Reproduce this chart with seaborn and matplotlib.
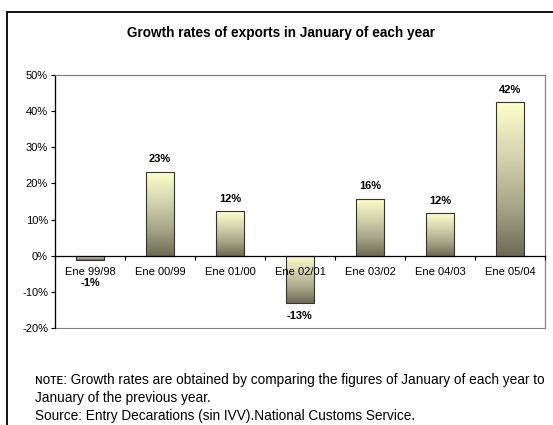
import numpy as np
import pandas as pd
import seaborn as sns
import matplotlib.pyplot as plt
from matplotlib.colors import LinearSegmentedColormap
from matplotlib.patches import Rectangle
from matplotlib.ticker import PercentFormatter, FixedLocator

# Datos
periodos = ['Ene 99/98', 'Ene 00/99', 'Ene 01/00', 'Ene 02/01', 'Ene 03/02', 'Ene 04/03', 'Ene 05/04']
tasas = [-1.3, 23.2, 12.3, -13.1, 15.8, 11.8, 42.4]
etiquetas = ['-1%', '23%', '12%', '-13%', '16%', '12%', '42%']

titulo = 'Growth rates of exports in January of each year'
nota = ['ɴᴏᴛᴇ: Growth rates are obtained by comparing the figures of January of each year to',
        'January of the previous year.',
        'Source: Entry Decarations (sin IVV).National Customs Service.']

df = pd.DataFrame({'periodo': periodos, 'tasa': tasas})

sns.set_style('white')
plt.rcParams['font.family'] = ['Liberation Sans', 'DejaVu Sans']
plt.rcParams['text.color'] = 'black'
plt.rcParams['xtick.color'] = 'black'
plt.rcParams['ytick.color'] = 'black'
plt.rcParams['axes.unicode_minus'] = False

fig = plt.figure(figsize=(5.53, 4.25), dpi=100)
ax = fig.add_axes([55 / 553, 1 - 328 / 425, 490 / 553, 253 / 425])

sns.barplot(x='periodo', y='tasa', data=df, color='#d2d2aa', width=0.41,
            edgecolor='#333333', linewidth=0.8, ax=ax)

# Relleno degradado de cada barra
cmap = LinearSegmentedColormap.from_list('oliva', ['#6b6b55', '#a8a88a', '#d6d6b0', '#ffffcc'])
grad = np.linspace(0, 1, 256).reshape(-1, 1)
for p in ax.patches:
    x0, y0 = p.get_x(), p.get_y()
    w, h = p.get_width(), p.get_height()
    lo, hi = min(y0, y0 + h), max(y0, y0 + h)
    im = ax.imshow(grad, cmap=cmap, aspect='auto', origin='lower',
                   extent=[x0, x0 + w, lo, hi], zorder=1)
    im.set_clip_path(p)
    p.set_facecolor('none')
    p.set_zorder(1.1)
ax.set_ylim(-20, 50)
ax.set_xlim(-0.5, len(periodos) - 0.5)

# Etiquetas de valores
desplaz = [-16, 9, 9, -9, 9, 9, 9]
for i, (v, t) in enumerate(zip(tasas, etiquetas)):
    ax.annotate(t, (i, v), xytext=(0, desplaz[i]), textcoords='offset points',
                ha='center', va='center', fontsize=8, fontweight='bold')

# Ejes
ax.yaxis.set_major_formatter(PercentFormatter(decimals=0))
ax.set_yticks(range(-20, 51, 10))
ax.tick_params(axis='y', direction='out', length=3, width=0.8,
               labelsize=8, pad=2, left=True)
ax.spines['bottom'].set_position(('data', 0))
ax.spines['bottom'].set_color('black')
ax.spines['bottom'].set_linewidth(0.9)
ax.spines['left'].set_color('black')
ax.spines['left'].set_linewidth(0.9)
for s in ['top', 'right']:
    ax.spines[s].set_color('#808080')
    ax.spines[s].set_linewidth(0.8)
ax.add_patch(Rectangle((0, 0), 1, 1, transform=ax.transAxes, fill=False,
                       edgecolor='#808080', linewidth=0.8, zorder=0, clip_on=False))
ax.xaxis.set_minor_locator(FixedLocator(np.arange(-0.5, len(periodos), 1)))
ax.tick_params(axis='x', which='major', length=0, labelsize=8, pad=8)
ax.tick_params(axis='x', which='minor', direction='out', length=3, width=0.8, bottom=True)
ax.xaxis.set_zorder(3)
ax.spines['bottom'].set_zorder(3)
ax.set_xlabel('')
ax.set_ylabel('')

# Título y notas
fig.text(281 / 553, 1 - 33 / 425, titulo, ha='center', va='center',
         fontsize=9.8, fontweight='bold')
for k, linea in enumerate(nota):
    fig.text(35 / 553, 1 - (380 + 18 * k) / 425, linea, ha='left', va='center', fontsize=9.8)

# Marco exterior
fig.patches.append(Rectangle((7 / 553, -0.1), 1.2, 1.1 - 12 / 425, transform=fig.transFigure,
                             fill=False, edgecolor='black', linewidth=1.3, clip_on=False))

fig.savefig('out.png', dpi=100)
